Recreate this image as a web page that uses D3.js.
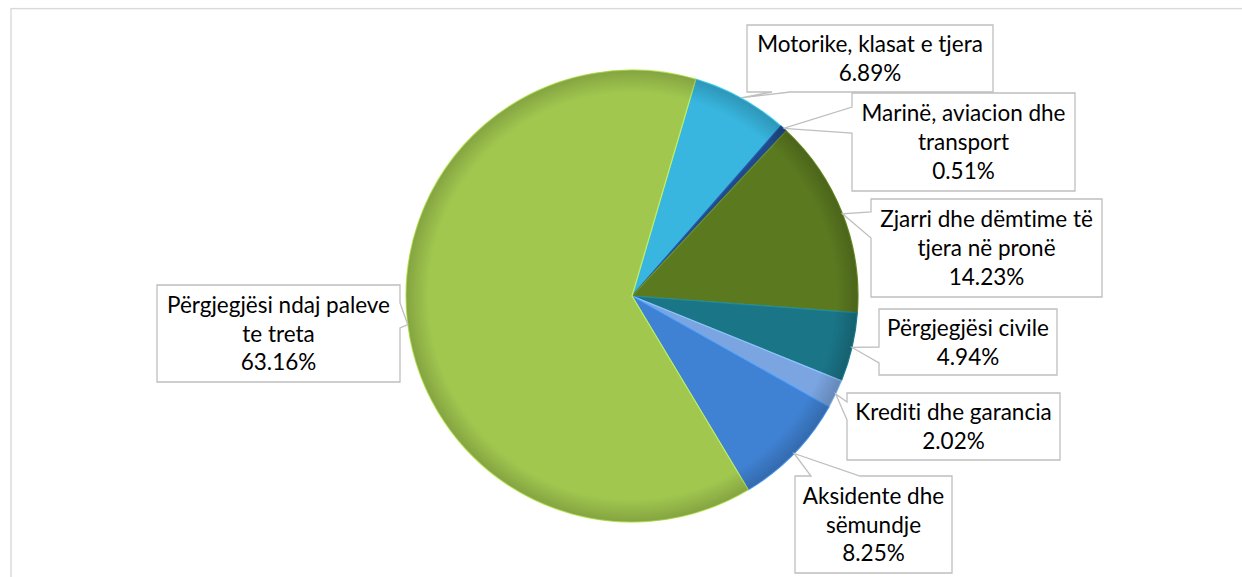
<!DOCTYPE html>
<html>
<head>
<meta charset="utf-8">
<script src="https://cdnjs.cloudflare.com/ajax/libs/d3/7.8.5/d3.min.js"></script>
<style>
  body { margin: 0; background: #fff; }
  #chart text { font-family: Lato, "Open Sans", sans-serif; font-variant-ligatures: none; }
</style>
</head>
<body>
<div id="chart"></div>
<script>
// data
var categories = [
    "Motorike, klasat e tjera",
    "Marinë, aviacion dhe transport",
    "Zjarri dhe dëmtime të tjera në pronë",
    "Përgjegjësi civile",
    "Krediti dhe garancia",
    "Aksidente dhe sëmundje",
    "Përgjegjësi ndaj paleve te treta"
];
var shares = [6.89, 0.51, 14.23, 4.94, 2.02, 8.25, 63.16];
var labelLines = [
    ["Motorike, klasat e tjera", "6.89%"],
    ["Marinë, aviacion dhe", "transport", "0.51%"],
    ["Zjarri dhe dëmtime të", "tjera në pronë", "14.23%"],
    ["Përgjegjësi civile", "4.94%"],
    ["Krediti dhe garancia", "2.02%"],
    ["Aksidente dhe", "sëmundje", "8.25%"],
    ["Përgjegjësi ndaj paleve", "te treta", "63.16%"]
];
var colors = ["#38b6df", "#1f4b8e", "#5b7a20", "#1a7587", "#7aa5e0", "#3f81d2", "#a1c74f"];

// callout boxes (layout only)
var boxes = [
    { x: 747, y: 25, w: 246, h: 67, side: "bottom", a: 772, b: 790 },
    { x: 852, y: 93, w: 223, h: 98, side: "left", a: 107, b: 133 },
    { x: 871, y: 199, w: 231, h: 98, side: "left", a: 212, b: 238 },
    { x: 879, y: 309, w: 178, h: 66, side: "left", a: 347, b: 363 },
    { x: 847, y: 393, w: 213, h: 67, side: "left", a: 402, b: 420 },
    { x: 795, y: 476, w: 157, h: 97, side: "top", a: 811, b: 860 },
    { x: 157, y: 285, w: 243, h: 97, side: "right", a: 303, b: 328 }
];

var width = 1242, height = 577;
var cx = 632, cy = 296, radius = 226;
var lineH = 28.7;

var svg = d3.select("#chart")
    .append("svg")
    .attr("width", width)
    .attr("height", height);

// chart area border
svg.append("rect")
    .attr("x", 11).attr("y", 8.6)
    .attr("width", width).attr("height", height)
    .attr("fill", "#fff")
    .attr("stroke", "#d9d9d9")
    .attr("stroke-width", 1.4);

var defs = svg.append("defs");
var rim = defs.append("radialGradient")
    .attr("id", "rim")
    .attr("gradientUnits", "userSpaceOnUse")
    .attr("cx", cx).attr("cy", cy).attr("r", radius);
rim.append("stop").attr("offset", "0").attr("stop-color", "#000").attr("stop-opacity", 0);
rim.append("stop").attr("offset", "0.9").attr("stop-color", "#000").attr("stop-opacity", 0);
rim.append("stop").attr("offset", "1").attr("stop-color", "#000").attr("stop-opacity", 0.18);

var startDeg = 16.4;
var pie = d3.pie()
    .sort(null)
    .value(function(d) { return d; })
    .startAngle(startDeg * Math.PI / 180)
    .endAngle(startDeg * Math.PI / 180 + 2 * Math.PI);
var arcs = pie(shares);

var arc = d3.arc().innerRadius(0).outerRadius(radius);

var g = svg.append("g")
    .attr("transform", "translate(" + cx + "," + cy + ")");

g.selectAll("path.slice")
    .data(arcs)
    .enter()
    .append("path")
    .attr("class", "slice")
    .attr("d", arc)
    .attr("fill", function(d, i) { return colors[i]; })
    .attr("stroke", function(d, i) { return d3.color(colors[i]).brighter(0.5); })
    .attr("stroke-width", 1.2)
    .attr("stroke-linejoin", "round");

// darker rim over the whole pie
svg.append("circle")
    .attr("cx", cx).attr("cy", cy).attr("r", radius)
    .attr("fill", "url(#rim)");

// callout boxes with pointer
function calloutPath(b, tip) {
    var x = b.x, y = b.y, w = b.w, h = b.h;
    var p = [];
    if (b.side === "left") {
        p = [[x, y], [x + w, y], [x + w, y + h], [x, y + h], [x, b.b], tip, [x, b.a]];
    } else if (b.side === "right") {
        p = [[x, y], [x + w, y], [x + w, b.a], tip, [x + w, b.b], [x + w, y + h], [x, y + h]];
    } else if (b.side === "bottom") {
        p = [[x, y], [x + w, y], [x + w, y + h], [b.b, y + h], tip, [b.a, y + h], [x, y + h]];
    } else {
        p = [[x, y], [b.a, y], tip, [b.b, y], [x + w, y], [x + w, y + h], [x, y + h]];
    }
    return "M" + p.map(function(q) { return q[0] + "," + q[1]; }).join("L") + "Z";
}

var labels = svg.append("g");
arcs.forEach(function(d, i) {
    var mid = (d.startAngle + d.endAngle) / 2;
    var tip = [cx + radius * Math.sin(mid), cy - radius * Math.cos(mid)];
    var b = boxes[i];
    labels.append("path")
        .attr("d", calloutPath(b, tip))
        .attr("fill", "#fff")
        .attr("stroke", "#bfbfbf")
        .attr("stroke-width", 1.3)
        .attr("stroke-linejoin", "miter");
    var lines = labelLines[i];
    var first = b.y + b.h / 2 - lines.length * lineH / 2 + 22.5;
    var t = labels.append("text")
        .attr("text-anchor", "middle")
        .attr("font-size", "22.5px")
        .attr("fill", "#000");
    lines.forEach(function(s, k) {
        t.append("tspan")
            .attr("x", b.x + b.w / 2)
            .attr("y", first + k * lineH)
            .text(s);
    });
});
</script>
</body>
</html>
